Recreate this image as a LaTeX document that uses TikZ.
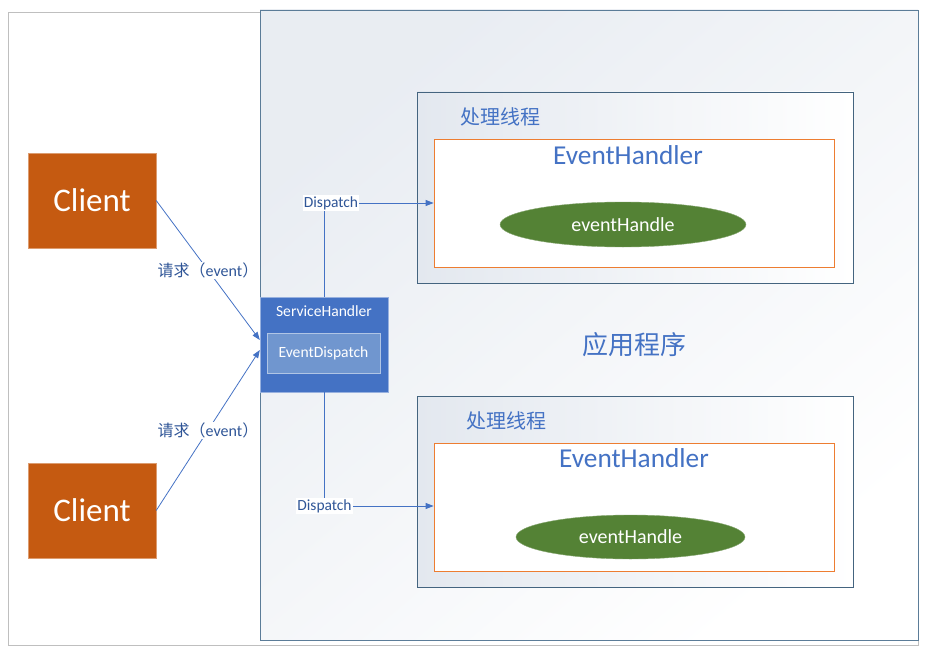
\documentclass[tikz,border=0pt]{standalone}
\usepackage{fontspec}
\setmainfont{Carlito}
\newfontfamily\cjk{Noto Sans CJK SC}
\usetikzlibrary{positioning, shapes.geometric, arrows.meta}

\definecolor{clientorange}{HTML}{C55A11}
\definecolor{shblue}{HTML}{4472C4}
\definecolor{edblue}{HTML}{7096CF}
\definecolor{linkblue}{HTML}{4472C4}
\definecolor{labelblue}{HTML}{2F5597}
\definecolor{appedge}{HTML}{5B7C98}
\definecolor{appshade}{HTML}{E3E8EF}
\definecolor{threadedge}{HTML}{44647F}
\definecolor{handlerorange}{HTML}{ED7D31}
\definecolor{handlegreen}{HTML}{548235}

\begin{document}
\begin{tikzpicture}
      [
        x=1pt, y=-1pt,
        client/.style={rectangle, fill=clientorange, draw=clientorange!60!white,
          minimum width=128pt, minimum height=95pt, text=white,
          font=\fontsize{33}{33}\selectfont},
        service/.style={rectangle, fill=shblue, draw=shblue!55!white,
          minimum width=128pt, minimum height=95pt},
        inner/.style={rectangle, fill=edblue, draw=edblue!55!white,
          minimum width=113pt, minimum height=40pt, text=white,
          font=\fontsize{15.6}{15.6}\selectfont},
        thread/.style={rectangle, draw=threadedge, line width=0.8pt,
          left color=appshade, right color=white,
          minimum width=436pt, minimum height=191pt},
        handler/.style={rectangle, draw=handlerorange, fill=white, line width=0.8pt,
          minimum width=400pt, minimum height=128pt},
        handle/.style={ellipse, fill=handlegreen, draw=handlegreen!70!white,
          text=white, inner sep=0pt, font=\fontsize{20}{20}\selectfont},
        title/.style={text=shblue, inner sep=0pt},
        reqlabel/.style={fill=white, inner sep=1pt, text=labelblue,
          font=\fontsize{16}{16}\selectfont},
        dlabel/.style={fill=white, inner sep=1pt, text=labelblue,
          font=\fontsize{15.5}{15.5}\selectfont},
        link/.style={draw=linkblue, line width=0.8pt},
        arr/.style={link, -{Triangle[length=8pt,width=6pt]}}
      ]
      \useasboundingbox (0,0) rectangle (931,658);
      % frame and application area
      \draw[black!25, line width=1pt] (8,13) rectangle (918,645);
      \draw[appedge, line width=0.8pt, top color=appshade!80!white, bottom color=white,
        shading angle=40] (260,10) rectangle (918,640);
      \node[title, font=\cjk\fontsize{26}{26}\selectfont] (app) at (634,345) {应用程序};
      % clients
      \foreach \i/\y in {1/200.5,2/510.5} {
          \node[client] (client\i) at (92,\y) {Client};
      }
      % service handler
      \node[service] (sh) at (324,344.5) {};
      \node[text=white, inner sep=0pt, font=\fontsize{15.6}{15.6}\selectfont]
        (shname) at (324,311) {ServiceHandler};
      \node[inner] (ed) at (323.5,353) {EventDispatch};
      % threads
      \node[thread] (t1) at (635,187.5) {};
      \node[title, font=\cjk\fontsize{20}{20}\selectfont] (t1name) at (500,117) {处理线程};
      \node[handler] (h1) at (634,203) {};
      \node[title, font=\fontsize{27.3}{27.3}\selectfont] (h1name) at (628,155) {EventHandler};
      \node[handle, minimum width=246pt, minimum height=45pt] (e1) at (623,224.5) {eventHandle};
      \node[thread] (t2) at (635,491.5) {};
      \node[title, font=\cjk\fontsize{20}{20}\selectfont] (t2name) at (506,421) {处理线程};
      \node[handler] (h2) at (634,507) {};
      \node[title, font=\fontsize{27.3}{27.3}\selectfont] (h2name) at (634,458) {EventHandler};
      \node[handle, minimum width=229pt, minimum height=44pt] (e2) at (630.5,537) {eventHandle};
      % requests
      \draw[arr] (client1.east) -- node[reqlabel] (req1)
        {{\cjk 请求（}event{\cjk ）}} ([yshift=4.5pt]sh.west);
      \draw[arr] (client2.east) -- node[reqlabel] (req2)
        {{\cjk 请求（}event{\cjk ）}} ([yshift=-5.5pt]sh.west);
      % dispatch
      \node[dlabel] (d1) at (331,203) {Dispatch};
      \node[dlabel] (d2) at (324.5,506) {Dispatch};
      \draw[link] (sh.north) -- (sh.north |- d1.south);
      \draw[arr] (d1.east) -- (d1.east -| h1.west);
      \draw[link] (sh.south) -- (sh.south |- d2.north);
      \draw[arr] (d2.east) -- (d2.east -| h2.west);
\end{tikzpicture}
\end{document}
